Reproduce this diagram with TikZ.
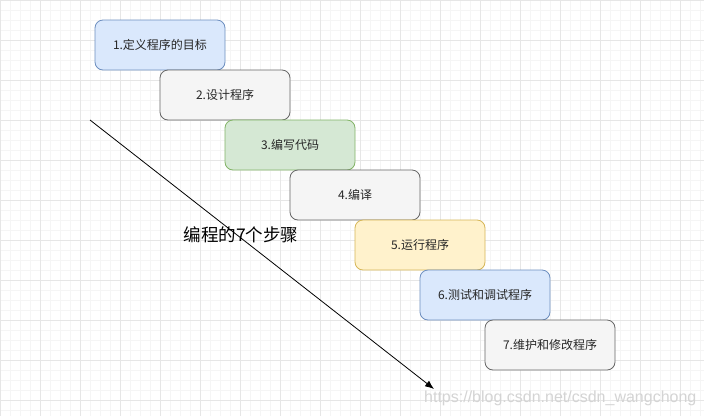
\documentclass[tikz,border=0pt]{standalone}
\usepackage{fontspec}
\setmainfont{Liberation Sans}
\newfontfamily\cjk{Noto Sans CJK SC}
\usetikzlibrary{arrows.meta}
\definecolor{bluef}{HTML}{DAE8FC}\definecolor{blued}{HTML}{6C8EBF}
\definecolor{grayf}{HTML}{F5F5F5}\definecolor{grayd}{HTML}{666666}
\definecolor{greenf}{HTML}{D5E8D4}\definecolor{greend}{HTML}{82B366}
\definecolor{yellowf}{HTML}{FFF2CC}\definecolor{yellowd}{HTML}{D6B656}
\definecolor{minorg}{HTML}{F5F5F5}\definecolor{majorg}{HTML}{E6E6E6}
\tikzset{
  stepbox/.style={rounded corners=8pt, minimum width=130pt, minimum height=50pt, inner sep=0pt, font=\cjk\fontsize{12pt}{14pt}\selectfont, text=black!85, line width=0.8pt},
  sblue/.style={stepbox, fill=bluef, draw=blued},
  sgray/.style={stepbox, fill=grayf, draw=grayd},
  sgreen/.style={stepbox, fill=greenf, draw=greend},
  syellow/.style={stepbox, fill=yellowf, draw=yellowd},
}
\begin{document}
\begin{tikzpicture}[x=1pt,y=-1pt]
\useasboundingbox (0,0) rectangle (704,416);
\fill[white] (0,0) rectangle (704,416);
\foreach \i in {0,10,...,700} \draw[minorg, line width=0.6pt] (\i,0) -- (\i,416);
\foreach \j in {0,10,...,410} \draw[minorg, line width=0.6pt] (0,\j) -- (704,\j);
\foreach \i in {0,40,...,700} \draw[majorg, line width=0.8pt] (\i,0) -- (\i,416);
\foreach \j in {0,40,...,400} \draw[majorg, line width=0.8pt] (0,\j) -- (704,\j);
\node[sblue]   (s1) at (160,45)  {1.定义程序的目标};
\node[sgray]   (s2) at (225,95)  {2.设计程序};
\node[sgreen]  (s3) at (290,145) {3.编写代码};
\node[sgray]   (s4) at (355,195) {4.编译};
\node[syellow] (s5) at (420,245) {5.运行程序};
\node[sblue]   (s6) at (485,295) {6.测试和调试程序};
\node[sgray]   (s7) at (550,345) {7.维护和修改程序};
\coordinate (a0) at (90,120);
\coordinate (a1) at (434,389);
\draw[line width=0.8pt, -{Latex[length=9pt,width=7pt]}] (a0) -- (a1);
\node[font=\cjk\fontsize{17.5pt}{20pt}\selectfont, text=black] (lbl) at (241,235) {编程的7个步骤};
\node[font=\fontsize{16pt}{18pt}\selectfont, text=black!17, anchor=west, inner sep=0pt] (wm) at (424,398) {https://blog.csdn.net/csdn\_wangchong};
\end{tikzpicture}
\end{document}
